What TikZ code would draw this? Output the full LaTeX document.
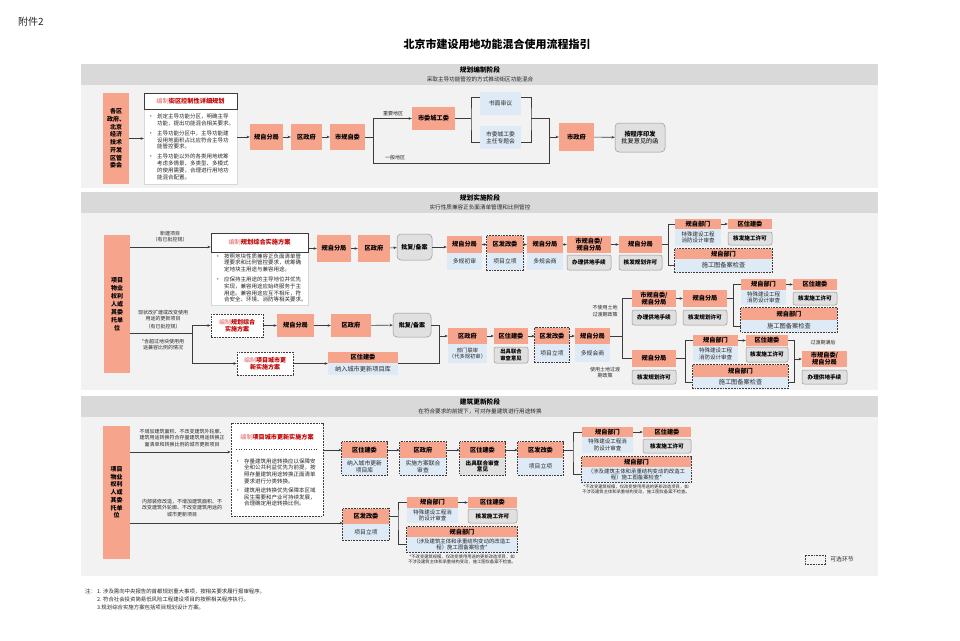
\documentclass[tikz,border=0pt]{standalone}
\usepackage{fontspec}
\setmainfont{Noto Sans CJK SC}
\usetikzlibrary{arrows.meta}
\definecolor{salmon}{RGB}{246,164,140}
\definecolor{lblue}{RGB}{222,235,247}
\definecolor{gfill}{RGB}{224,224,224}
\definecolor{gline}{RGB}{150,150,150}
\definecolor{dline}{RGB}{60,60,60}
\definecolor{lcol}{RGB}{60,60,60}
\definecolor{panel}{RGB}{242,242,242}
\definecolor{band}{RGB}{217,217,217}
\definecolor{redt}{RGB}{192,0,0}
\definecolor{redl}{RGB}{226,96,96}
\definecolor{txt}{RGB}{38,38,38}

\begin{document}
\begin{tikzpicture}[x=1pt,y=-1pt,
    hd/.style={fill=salmon, inner sep=0pt, align=center, text=black, font=\fontsize{6.2}{7}\selectfont\bfseries},
    sb/.style={fill=lblue, inner sep=0pt, align=center, text=txt, font=\fontsize{5.8}{6.6}\selectfont},
    gb/.style={fill=gfill, draw=gline, line width=0.5pt, rounded corners=2pt, inner sep=0pt, align=center, text=black, font=\fontsize{5.6}{6.6}\selectfont\bfseries},
    wh/.style 2 args={minimum width=#1, minimum height=#2},
    opt/.style={draw=dline, line width=0.8pt, dash pattern=on 1.8pt off 1pt},
    arr/.style={draw=lcol, line width=0.6pt, -{Stealth[length=3.2pt,width=2.6pt]}},
    ln/.style={draw=lcol, line width=0.6pt},
    lbl/.style={inner sep=0pt, align=center, text=txt, font=\fontsize{5}{6.2}\selectfont},
    tiny/.style={inner sep=0pt, align=center, text=txt, font=\fontsize{4.3}{5}\selectfont},
    bul/.style={inner sep=0pt, anchor=north west, text=txt, font=\fontsize{5.5}{6.7}\selectfont},
    ttl/.style={inner sep=0pt, text=black, font=\fontsize{6.7}{8}\selectfont\bfseries},
    sttl/.style={inner sep=0pt, text=txt, font=\fontsize{5.6}{6.6}\selectfont},
    tbox/.style={draw=dline, fill=white, line width=0.6pt, inner sep=0pt, font=\fontsize{6.2}{7}\selectfont}]
\useasboundingbox[fill=white] (0,0) rectangle (960,640);

\node[anchor=west, inner sep=0pt, text=txt, font=\fontsize{10}{12}\selectfont] (fj) at (18,22) {附件2};
\node[inner sep=0pt, font=\fontsize{11}{13}\selectfont\bfseries] (title) at (497,44) {北京市建设用地功能混合使用流程指引};

% 规划编制阶段
\fill[panel] (81,64) rectangle (878,188);
\fill[band] (81,64) rectangle (878,85);
\node[ttl] (t1) at (480,70) {规划编制阶段};
\node[sttl] (t1s) at (480,79.5) {采取主导功能管控的方式推动街区功能混合};

\node[hd, wh={26}{91}, font=\fontsize{6}{7.7}\selectfont\bfseries] (s1L) at (116,138.5) {各区\\政府、\\北京\\经济\\技术\\开发\\区管\\委会};
\node[draw=gray!30, fill=white, wh={93}{75}] (s1Tb) at (190.5,146.5) {};
\node[tbox, wh={93}{16}] (s1Th) at (190.5,101) {\textcolor{redl}{编制}\textcolor{redt}{\bfseries 街区控制性详细规划}};
\node[bul] (s1B) at (148,114) {\begin{tabular}{@{}l@{\hspace{3.5pt}}l@{}}
\textbullet & 划定主导功能分区，明确主导\\
 & 功能，提出功能混合相关要求。\\[3.3pt]
\textbullet & 主导功能分区中，主导功能建\\
 & 设用地面积占比应符合主导功\\
 & 能管控要求。\\[3.3pt]
\textbullet & 主导功能以外的各类用地统筹\\
 & 考虑多情景、多类型、多模式\\
 & 的使用需要，合理进行用地功\\
 & 能混合配置。
\end{tabular}};
\node[hd, wh={33}{26}] (gz1) at (266.5,137) {规自分局};
\node[hd, wh={31}{26}] (qz1) at (306.5,137) {区政府};
\node[hd, wh={35}{26}] (sg1) at (347.5,137) {市规自委};
\node[hd, wh={43}{23}] (cw1) at (433.5,118.5) {市委城工委};
\node[sb, wh={41}{23}] (sm1) at (500.5,103.5) {书面审议};
\node[sb, wh={41}{23}] (zt1) at (500.5,137.5) {市委城工委\\主任专题会};
\node[hd, wh={35}{28}] (zf1) at (576.5,137) {市政府};
\node[gb, wh={50}{29}, rounded corners=4pt, font=\fontsize{6.2}{7.4}\selectfont] (yf1) at (640,137.5) {\textbf{按程序印发}\\批复意见的函};

\draw[arr] (s1L.east) -- (s1L.east -| s1Tb.west);
\draw[arr] (s1Tb.east |- gz1) -- (gz1);
\draw[arr] (gz1) -- (qz1);
\draw[arr] (qz1) -- (sg1);
\coordinate (c1) at (373,137);
\coordinate (c1b) at (549,163);
\coordinate (c3) at (549,137);
\coordinate (b1) at (471,118.5);
\coordinate (b2) at (531,118.5);
\draw[ln] (sg1) -- (c1);
\draw[arr] (c1) |- (cw1);
\draw[ln] (c1) |- (c1b) -- (c3);
\draw[ln] (cw1) -- (b1);
\draw[ln] ([yshift=-5pt]sm1.north west) -| (b1) |- ([yshift=7pt]zt1.south west);
\draw[ln] ([yshift=-5pt]sm1.north east) -| (b2) |- ([yshift=7pt]zt1.south east);
\draw[ln] (b2) -| (c3);
\draw[arr] (c3) -- (zf1);
\draw[arr] (zf1) -- (yf1);
\node[lbl] (l1) at (393,114) {重要地区};
\node[lbl] (l2) at (395,158) {一般地区};

% 规划实施阶段
\fill[panel] (81,192) rectangle (878,390);
\fill[band] (81,192) rectangle (878,213);
\node[ttl] (t2) at (480,198) {规划实施阶段};
\node[sttl] (t2s) at (480,207.5) {实行性质兼容正负面清单管理和比例管控};

\node[hd, wh={26}{138}, font=\fontsize{6}{8}\selectfont\bfseries] (s2L) at (117,304) {项目\\物业\\权利\\人或\\其委\\托单\\位};
\node[draw=gray!30, fill=white, wh={97}{53}] (s2Tb) at (259.5,278.5) {};
\node[tbox, wh={97}{19}] (s2Th) at (259.5,242.5) {\textcolor{redl}{编制}\textcolor{redt}{\bfseries 规划综合实施方案}};
\node[bul] (s2B) at (215,253.4) {\begin{tabular}{@{}l@{\hspace{3.5pt}}l@{}}
\textbullet & 按照地块性质兼容正负面清单管\\
 & 理要求和比例管控要求，统筹确\\
 & 定地块主用途与兼容用途。\\[3.3pt]
\textbullet & 应保持主用途的主导地位并优先\\
 & 实现，兼容用途应始终服务于主\\
 & 用途。兼容用途应互不相斥，符\\
 & 合安全、环境、消防等相关要求。
\end{tabular}};

% row A
\node[hd, wh={34}{27}] (gzA) at (334,248.5) {规自分局};
\node[hd, wh={32}{27}] (qzA) at (374,248.5) {区政府};
\node[gb, wh={35}{26}, rounded corners=4pt, font=\fontsize{6}{7}\selectfont\bfseries] (pfA) at (414.5,247) {批复/备案};
\node[hd, wh={35}{17}] (gzA2h) at (464.5,244.5) {规自分局};
\node[sb, wh={35}{17}] (gzA2s) at (464.5,261.5) {多规初审};
\node[hd, wh={36}{17}] (fgAh) at (505,244.5) {区发改委};
\node[sb, wh={36}{17}] (fgAs) at (505,261.5) {项目立项};
\node[hd, wh={36}{17}] (gzA3h) at (545,244.5) {规自分局};
\node[sb, wh={36}{17}] (gzA3s) at (545,261.5) {多规会商};
\node[hd, wh={44}{17}] (sgAh) at (589,244.5) {市规自委/\\规自分局};
\node[gb, wh={44}{15}] (sgAg) at (589,262.5) {办理供地手续};
\node[hd, wh={43}{17}] (gzA4h) at (640.5,244.5) {规自分局};
\node[gb, wh={43}{15}] (gzA4g) at (640.5,262.5) {核发规划许可};
\node[hd, wh={46}{10}] (gbAh) at (698,224) {规自部门};
\node[sb, wh={46}{17}, font=\fontsize{5.5}{6.5}\selectfont] (gbAs) at (698,237.5) {特殊建设工程\\消防设计审查};
\node[hd, wh={44}{10}] (zjAh) at (750,224) {区住建委};
\node[gb, wh={44}{13}] (zjAg) at (750,238.5) {核发施工许可};
\node[hd, wh={97}{10}] (tcAh) at (723.5,254) {规自部门};
\node[sb, wh={97}{13}, font=\fontsize{6.2}{7}\selectfont] (tcAs) at (723.5,265.5) {施工图备案检查};
\draw[opt] (fgAh.north west) rectangle (fgAs.south east);
\draw[opt] (tcAh.north west) rectangle (tcAs.south east);

\coordinate (rA) at (0,247);
\draw[arr] (s2L.east |- rA) -- (s2Th.west |- rA);
\node[lbl] (lA) at (170,236.5) {新建项目\\（有已批控规）};
\draw[arr] (s2Th.east |- gzA) -- (gzA);
\draw[arr] (gzA) -- (qzA);
\draw[arr] (qzA) -- (pfA);
\draw[arr] (pfA) -- (pfA -| gzA2h.west);
\draw[arr] (gzA2h) -- (fgAh);
\draw[arr] (fgAh) -- (gzA3h);
\draw[arr] (gzA3h) -- (sgAh);
\draw[arr] (sgAh) -- (gzA4h);
\coordinate (bA) at (668,244.5);
\draw[ln] (gzA4h) -- (bA);
\draw[ln] (gbAh) -| (bA) |- (tcAs);
\draw[arr] (gbAh) -- (zjAh);

% row B
\node[opt, fill=white, wh={52}{23}, inner sep=0pt, align=center, font=\fontsize{6}{7}\selectfont] (bzB) at (237,325.5) {\textcolor{redl}{编制}\textcolor{redt}{\bfseries 规划综合}\\\textcolor{redt}{\bfseries 实施方案}};
\node[hd, wh={37}{23}] (gzB) at (295.5,325.5) {规自分局};
\node[hd, wh={40}{23}] (qzB) at (351,325.5) {区政府};
\node[gb, wh={38}{24}, rounded corners=4pt, font=\fontsize{6}{7}\selectfont\bfseries] (pfB) at (412,325) {批复/备案};
\node[opt, fill=white, wh={56}{23}, inner sep=0pt, align=center, font=\fontsize{6}{7}\selectfont] (bzC) at (265,363.5) {\textcolor{redl}{编制}\textcolor{redt}{\bfseries 项目城市更}\\\textcolor{redt}{\bfseries 新实施方案}};
\node[hd, wh={70}{11}] (zjBh) at (363,357.5) {区住建委};
\node[sb, wh={70}{12}, font=\fontsize{6.2}{7}\selectfont] (zjBs) at (363,369) {纳入城市更新项目库};
\node[hd, wh={39}{16}] (qzCh) at (467.5,336) {区政府};
\node[sb, wh={39}{19}, font=\fontsize{5.3}{6.4}\selectfont] (qzCs) at (467.5,353.5) {部门联审\\（代多规初审）};
\node[hd, wh={34}{16}] (zjCh) at (511,336) {区住建委};
\node[gb, wh={34}{16}, font=\fontsize{5.3}{6.4}\selectfont\bfseries] (zjCg) at (511,355) {出具联合\\审查意见};
\node[hd, wh={34}{16}] (fgCh) at (552,336) {区发改委};
\node[sb, wh={34}{18}] (fgCs) at (552,353) {项目立项};
\node[hd, wh={35}{16}] (gzCh) at (592.5,336) {规自分局};
\node[sb, wh={35}{18}] (gzCs) at (592.5,353) {多规会商};
\draw[opt] (fgCh.north west) rectangle (fgCs.south east);

\coordinate (sB) at (192,333);
\draw[ln] (s2L.east |- sB) -- (sB);
\draw[arr] (sB) |- (bzB);
\draw[arr] (sB) |- (bzC);
\node[lbl] (lB1) at (163,315.5) {现状改扩建或改变使用\\用途的更新项目};
\node[lbl] (lB2) at (163,327) {（有已批控规）};
\node[lbl] (lB3) at (163,344.5) {*含超过地块使用用\\途兼容比例的情况};
\draw[arr] (bzB) -- (gzB);
\draw[arr] (gzB) -- (qzB);
\draw[arr] (qzB) -- (pfB);
\draw[arr] (bzC) -- (bzC -| zjBh.west);
\coordinate (jB) at (439,336);
\draw[ln] (pfB) -| (jB);
\draw[ln] (bzC -| zjBs.east) -| (jB);
\draw[arr] (jB) -- (qzCh);
\draw[arr] (qzCh) -- (zjCh);
\draw[arr] (zjCh) -- (fgCh);
\draw[arr] (fgCh) -- (gzCh);

% row D / E
\node[hd, wh={44}{17}] (D1h) at (654,298.5) {市规自委/\\规自分局};
\node[gb, wh={44}{15}] (D1g) at (654,317.5) {办理供地手续};
\node[hd, wh={44}{17}] (D2h) at (705,298.5) {规自分局};
\node[gb, wh={44}{15}] (D2g) at (705,317.5) {核发规划许可};
\node[hd, wh={45}{11}] (gbDh) at (763.5,284.5) {规自部门};
\node[sb, wh={45}{15}, font=\fontsize{5.5}{6.5}\selectfont] (gbDs) at (763.5,297.5) {特殊建设工程\\消防设计审查};
\node[hd, wh={44}{11}] (zjDh) at (815,284.5) {区住建委};
\node[gb, wh={44}{13}] (zjDg) at (815,298.5) {核发施工许可};
\node[hd, wh={96}{12}] (tcDh) at (789,314) {规自部门};
\node[sb, wh={96}{12}, font=\fontsize{6.2}{7}\selectfont] (tcDs) at (789,326) {施工图备案检查};
\draw[opt] (tcDh.north west) rectangle (tcDs.south east);

\node[hd, wh={44}{17}] (E1h) at (654,358.5) {规自分局};
\node[gb, wh={44}{14}] (E1g) at (654,377) {核发规划许可};
\node[hd, wh={45}{11}] (gbEh) at (715.5,340.5) {规自部门};
\node[sb, wh={45}{16}, font=\fontsize{5.5}{6.5}\selectfont] (gbEs) at (715.5,354) {特殊建设工程\\消防设计审查};
\node[hd, wh={42}{11}] (zjEh) at (767,340.5) {区住建委};
\node[gb, wh={42}{15}] (zjEg) at (767,354.5) {核发施工许可};
\node[hd, wh={95}{12}] (tcEh) at (740.5,371) {规自部门};
\node[sb, wh={95}{11}, font=\fontsize{6.2}{7}\selectfont] (tcEs) at (740.5,382.5) {施工图备案检查};
\draw[opt] (tcEh.north west) rectangle (tcEs.south east);
\node[hd, wh={45}{16}] (Fh) at (824.5,359) {市规自委/\\规自分局};
\node[gb, wh={45}{14}] (Fg) at (824.5,377) {办理供地手续};

\coordinate (sD) at (622,336);
\draw[ln] (gzCh) -- (sD);
\draw[ln] (D1h) -| (sD) |- (E1h);
\node[lbl] (lD) at (605,311) {不使用土地\\过渡期政策};
\node[lbl] (lE) at (605,372.5) {使用土地过渡\\期政策};
\draw[arr] (D1h) -- (D2h);
\coordinate (bD) at (733,298.5);
\draw[ln] (D2h) -- (bD);
\draw[ln] (gbDh) -| (bD) |- (tcDs);
\draw[arr] (gbDh) -- (zjDh);
\coordinate (bE) at (685,358.5);
\draw[ln] (E1h) -- (bE);
\draw[ln] (gbEh) -| (bE) |- (tcEs);
\draw[arr] (gbEh) -- (zjEh);
\coordinate (bF) at (794,359);
\draw[ln] (zjEh) -| (bF) |- (tcEs);
\draw[arr] (bF) -- (Fh);
\node[lbl] (lF) at (823,343) {过渡期满后};

% 建筑更新阶段
\fill[panel] (81,396) rectangle (878,576);
\fill[band] (81,396) rectangle (878,417);
\node[ttl] (t3) at (480,402) {建筑更新阶段};
\node[sttl] (t3s) at (480,411.5) {在符合要求的前提下，可对存量建筑进行用途转换};

\node[hd, wh={27}{133}, font=\fontsize{6}{7.7}\selectfont\bfseries] (s3L) at (116.5,492.5) {项目\\物业\\权利\\人或\\其委\\托单\\位};
\node[opt, fill=white, wh={92}{93}] (T3) at (277,469.5) {};
\node[inner sep=0pt, font=\fontsize{6.1}{7}\selectfont] (T3h) at (277,437) {\textcolor{redl}{编制}\textcolor{redt}{\bfseries 项目城市更新实施方案}};
\draw[dline, dotted, line width=0.5pt] (236,449) -- (318,449);
\node[bul] (T3B) at (235,458.4) {\begin{tabular}{@{}l@{\hspace{3.5pt}}l@{}}
\textbullet & 存量建筑用途转换应以保障安\\
 & 全和公共利益优先为前提，按\\
 & 照存量建筑用途转换正面清单\\
 & 要求进行分类转换。\\[2.5pt]
\textbullet & 建筑用途转换优先保障本区域\\
 & 民生需要和产业可持续发展，\\
 & 合理确定用途转换比例。
\end{tabular}};

\node[hd, wh={45}{16}] (G1h) at (364.5,450) {区住建委};
\node[sb, wh={45}{17}, font=\fontsize{5.8}{6.6}\selectfont] (G1s) at (364.5,466.5) {纳入城市更新\\项目库};
\node[hd, wh={46}{16}] (G2h) at (423,450) {区政府};
\node[sb, wh={46}{17}] (G2s) at (423,466.5) {实施方案联合\\审查};
\node[hd, wh={45}{16}] (G3h) at (482.5,450) {区住建委};
\node[fill=gfill, inner sep=0pt, wh={45}{17}, align=center, font=\fontsize{5.6}{6.6}\selectfont\bfseries] (G3g) at (482.5,466.5) {出具联合审查\\意见};
\node[hd, wh={45}{16}] (G4h) at (540.5,450) {区发改委};
\node[sb, wh={45}{17}] (G4s) at (540.5,466.5) {项目立项};
\draw[opt] (G1h.north west) rectangle (G1s.south east);
\draw[opt] (G2h.north west) rectangle (G2s.south east);
\draw[opt] (G3h.north west) rectangle (G3g.south east);
\draw[opt] (G4h.north west) rectangle (G4s.south east);

\node[hd, wh={51}{10}] (H1h) at (607.5,432) {规自部门};
\node[sb, wh={51}{16}, font=\fontsize{5.5}{6.5}\selectfont] (H1s) at (607.5,445) {特殊建设工程消\\防设计审查};
\node[hd, wh={48}{10}] (H2h) at (667,432) {区住建委};
\node[gb, wh={48}{14}] (H2g) at (667,446) {核发施工许可};
\node[hd, wh={109}{10}] (H3h) at (636.5,462) {规自部门};
\node[sb, wh={109}{15}, font=\fontsize{5.4}{6.4}\selectfont] (H3s) at (636.5,474.5) {（涉及建筑主体和承重结构变动的改造工\\程）施工图备案检查*};
\draw[opt] (H3h.north west) rectangle (H3s.south east);
\node[tiny] (nH) at (636,489.5) {*不改变建筑规模，仅改变使用用途的更新改造项目，如\\不涉及建筑主体和承重结构变动，施工图仅备案不检查。};

\node[hd, wh={46}{15}] (J1h) at (366,516.5) {区发改委};
\node[sb, wh={46}{16}] (J1s) at (366,532) {项目立项};
\draw[opt] (J1h.north west) rectangle (J1s.south east);
\node[hd, wh={51}{11}] (K1h) at (432.5,502.5) {规自部门};
\node[sb, wh={51}{15}, font=\fontsize{5.5}{6.5}\selectfont] (K1s) at (432.5,515.5) {特殊建设工程消\\防设计审查};
\node[hd, wh={49}{11}] (K2h) at (492.5,502.5) {区住建委};
\node[gb, wh={49}{14}] (K2g) at (492.5,516) {核发施工许可};
\node[hd, wh={110}{10}] (K3h) at (462,532) {规自部门};
\node[sb, wh={110}{15}, font=\fontsize{5.4}{6.4}\selectfont] (K3s) at (462,544.5) {（涉及建筑主体和承重结构变动的改造工\\程）施工图备案检查*};
\draw[opt] (K3h.north west) rectangle (K3s.south east);
\node[tiny] (nK) at (462,559.5) {*不改变建筑规模，仅改变使用用途的更新改造项目，如\\不涉及建筑主体和承重结构变动，施工图仅备案不检查。};

\coordinate (rG) at (0,452);
\draw[arr] (s3L.east |- rG) -- (T3.west |- rG);
\node[lbl] (lG) at (182,438) {不增加建筑面积、不改变建筑外轮廓、\\建筑用途转换符合存量建筑用途转换正\\面清单和转换比例的城市更新项目};
\coordinate (rJ) at (0,523);
\draw[arr] (s3L.east |- rJ) -- (J1h.west |- rJ);
\node[lbl] (lJ) at (182,508) {内部装修改造，不增加建筑面积、不\\改变建筑外轮廓、不改变建筑用途的\\城市更新项目};
\draw[arr] (T3.east |- G1h) -- (G1h);
\draw[arr] (G1h) -- (G2h);
\draw[arr] (G2h) -- (G3h);
\draw[arr] (G3h) -- (G4h);
\coordinate (bH) at (573,450);
\draw[ln] (G4h) -- (bH);
\draw[ln] (H1h) -| (bH) |- (H3s);
\draw[arr] (H1h) -- (H2h);
\coordinate (bK) at (398,516.5);
\draw[ln] (J1h) -- (bK);
\draw[ln] (K1h) -| (bK) |- (K3s);
\draw[arr] (K1h) -- (K2h);

% legend and notes
\draw[opt] (805,555) rectangle (825,564);
\node[inner sep=0pt, text=txt, font=\fontsize{5.8}{7}\selectfont] (lg) at (842,559.5) {可选环节};
\node[anchor=north west, inner sep=0pt, text=txt, font=\fontsize{5.4}{8}\selectfont] (nt) at (85,588) {\begin{tabular}{@{}l@{\hspace{1pt}}l@{}}
注： & 1. 涉及需向中央报告的首都规划重大事项，按相关要求履行报审程序。\\
 & 2. 符合社会投资简易低风险工程建设项目的按照相关程序执行。\\
 & 3.规划综合实施方案包括项目规划设计方案。
\end{tabular}};
\end{tikzpicture}
\end{document}
